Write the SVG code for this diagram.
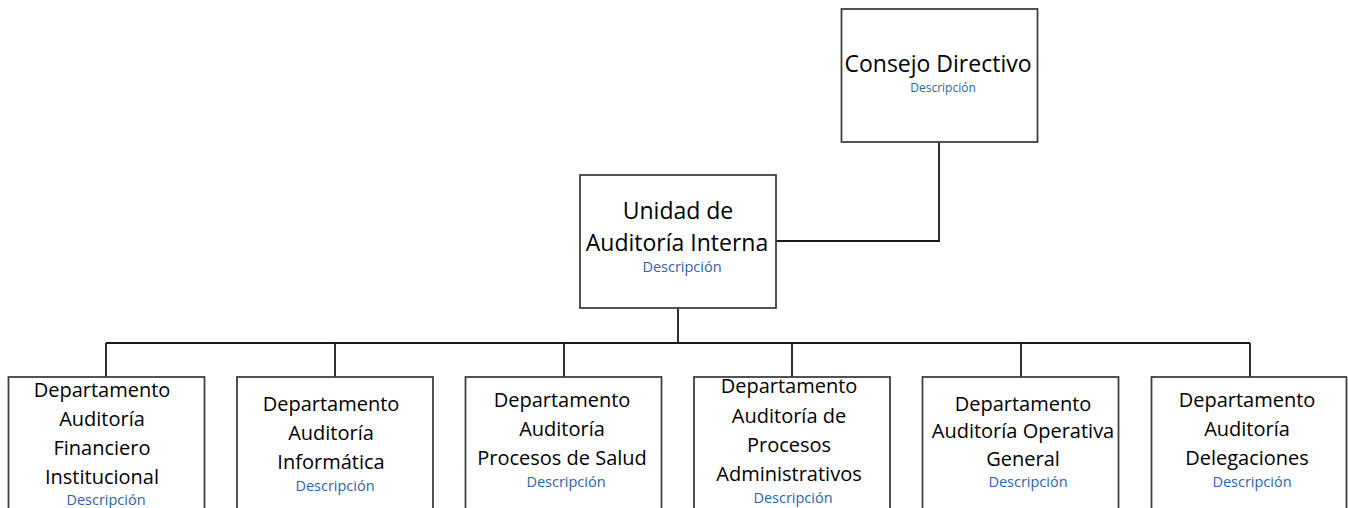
<svg xmlns="http://www.w3.org/2000/svg" width="1348" height="508" viewBox="0 0 1348 508">
<style>
.box{fill:#fff;stroke:#404040;stroke-width:1.8}
.con{fill:none;stroke:#1a1a1a;stroke-width:1.8}
.t{font-family:"Open Sans","Noto Sans",sans-serif;fill:#000;text-anchor:middle}
.big{font-size:23px}
.mid{font-size:20px}
.d{font-family:"Open Sans","Noto Sans",sans-serif;fill:#2F64A8;text-anchor:middle;font-size:14.5px}
.ds{font-size:12px}
</style>
<rect width="1348" height="508" fill="#fff"/>
<g id="connectors">
<polyline class="con" points="776,241 939,241 939,142"/>
<line class="con" x1="678" y1="308" x2="678" y2="343"/>
<line class="con" x1="106" y1="343" x2="1250" y2="343"/>
<line class="con" x1="106" y1="343" x2="106" y2="377"/>
<line class="con" x1="335" y1="343" x2="335" y2="377"/>
<line class="con" x1="564" y1="343" x2="564" y2="377"/>
<line class="con" x1="792" y1="343" x2="792" y2="377"/>
<line class="con" x1="1021" y1="343" x2="1021" y2="377"/>
<line class="con" x1="1250" y1="343" x2="1250" y2="377"/>
</g>
<g id="consejo">
<rect class="box" x="841.5" y="9" width="196" height="133"/>
<text class="t big" x="938" y="72">Consejo Directivo</text>
<text class="d ds" x="943" y="92">Descripción</text>
</g>
<g id="unidad">
<rect class="box" x="580" y="175" width="196" height="133"/>
<text class="t big" x="678" y="219">Unidad de</text>
<text class="t big" x="677" y="251">Auditoría Interna</text>
<text class="d" x="682" y="272">Descripción</text>
</g>
<g id="dep1">
<rect class="box" x="8.5" y="377" width="196" height="140"/>
<text class="t mid" x="102" y="397">Departamento</text>
<text class="t mid" x="102" y="426">Auditoría</text>
<text class="t mid" x="102" y="455">Financiero</text>
<text class="t mid" x="102" y="484">Institucional</text>
<text class="d" x="106" y="505">Descripción</text>
</g>
<g id="dep2">
<rect class="box" x="237" y="377" width="196" height="140"/>
<text class="t mid" x="331" y="411">Departamento</text>
<text class="t mid" x="331" y="440">Auditoría</text>
<text class="t mid" x="331" y="469">Informática</text>
<text class="d" x="335" y="491">Descripción</text>
</g>
<g id="dep3">
<rect class="box" x="465.5" y="377" width="196" height="140"/>
<text class="t mid" x="562" y="407">Departamento</text>
<text class="t mid" x="562" y="436">Auditoría</text>
<text class="t mid" x="562" y="465">Procesos de Salud</text>
<text class="d" x="566" y="487">Descripción</text>
</g>
<g id="dep4">
<rect class="box" x="694" y="377" width="196" height="140"/>
<text class="t mid" x="789" y="393">Departamento</text>
<text class="t mid" x="789" y="423">Auditoría de</text>
<text class="t mid" x="789" y="452">Procesos</text>
<text class="t mid" x="789" y="481">Administrativos</text>
<text class="d" x="793" y="503">Descripción</text>
</g>
<g id="dep5">
<rect class="box" x="922.5" y="377" width="196" height="140"/>
<text class="t mid" x="1023" y="411">Departamento</text>
<text class="t mid" x="1023" y="438">Auditoría Operativa</text>
<text class="t mid" x="1023" y="466">General</text>
<text class="d" x="1028" y="487">Descripción</text>
</g>
<g id="dep6">
<rect class="box" x="1151.5" y="377" width="195" height="140"/>
<text class="t mid" x="1247" y="407">Departamento</text>
<text class="t mid" x="1247" y="436">Auditoría</text>
<text class="t mid" x="1247" y="465">Delegaciones</text>
<text class="d" x="1252" y="487">Descripción</text>
</g>
</svg>
